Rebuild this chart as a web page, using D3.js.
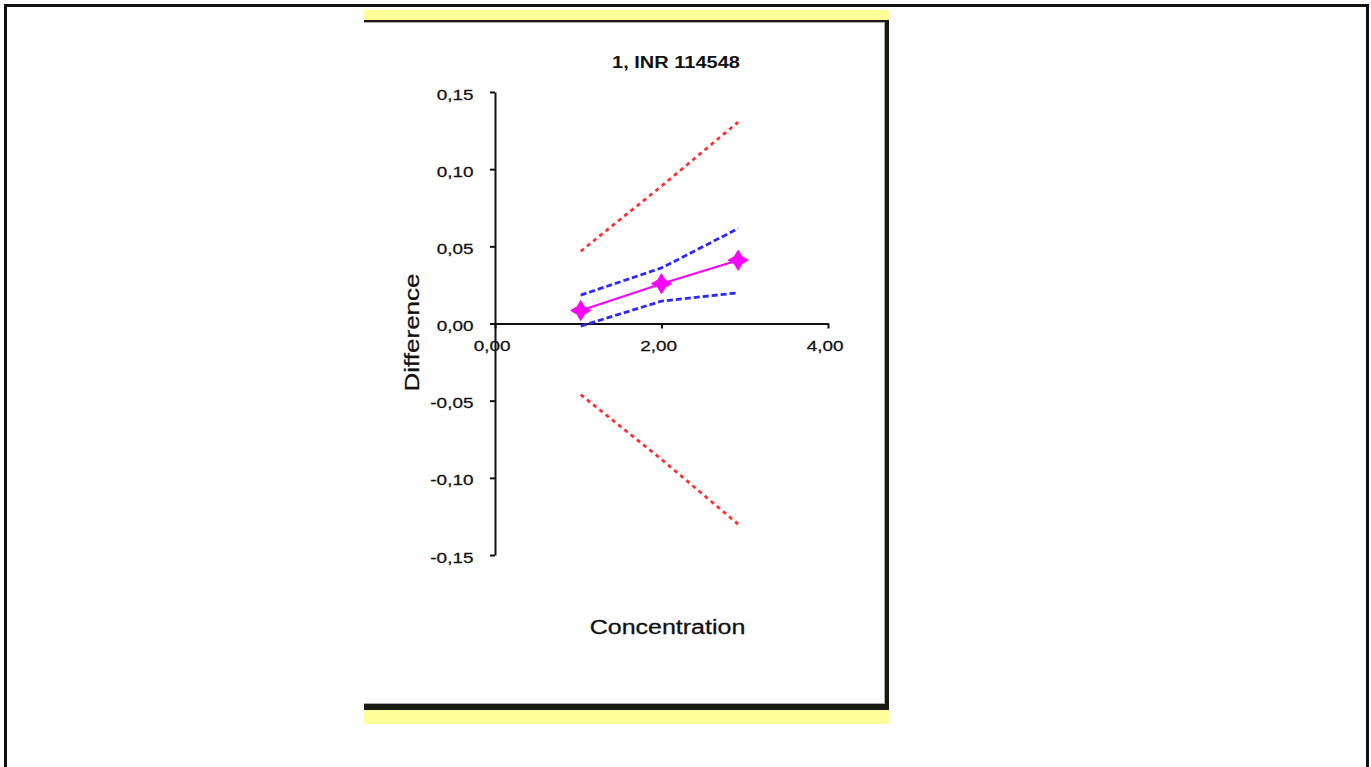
<!DOCTYPE html>
<html>
<head>
<meta charset="utf-8">
<script src="https://cdn.jsdelivr.net/npm/d3@7"></script>
<style>
  body { margin: 0; background: #fff; }
  text { font-family: "Liberation Sans", Arial, sans-serif; fill: #111; }
</style>
</head>
<body>
<main></main>
<script>
const width = 1371;
const height = 767;

// data
const concentration = [1.03, 2.00, 2.92];
const difference = [0.0084, 0.0258, 0.0410];
const upperCI = [0.0184, 0.0360, 0.0615];
const lowerCI = [-0.0017, 0.0145, 0.0199];
const upperLimit = [0.0468, 0.0890, 0.1305];
const lowerLimit = [-0.0461, -0.0880, -0.1300];
const xTicks = [0, 2, 4];
const yTicks = [-0.15, -0.10, -0.05, 0, 0.05, 0.10, 0.15];

const title = '1, INR 114548';
const xTitle = 'Concentration';
const yTitle = 'Difference';

const comma = (f) => (d) => f(d).replace('.', ',').replace('\u2212', '-');

const createSvg = () => {
    return d3.select('main')
             .append('svg')
             .attr('width', width)
             .attr('height', height)
}

const createFrame = (svg) => {
    // outer page frame
    svg.append('path')
       .attr('d', 'M5.5,790 V5.5 H1367.5 V790')
       .attr('fill', 'none')
       .attr('stroke', '#111')
       .attr('stroke-width', 3)

    // yellow backing + chart area
    svg.append('rect')
       .attr('x', 364).attr('y', 10)
       .attr('width', 525).attr('height', 714)
       .attr('fill', '#ffff99')
    svg.append('rect')
       .attr('x', 364).attr('y', 20)
       .attr('width', 523).attr('height', 688)
       .attr('fill', '#fff')

    svg.append('line').attr('x1', 364).attr('x2', 887).attr('y1', 21).attr('y2', 21)
       .attr('stroke', '#1a1a10').attr('stroke-width', 2)
    svg.append('line').attr('x1', 364).attr('x2', 885).attr('y1', 22.5).attr('y2', 22.5)
       .attr('stroke', '#aaa').attr('stroke-width', 1)
    svg.append('line').attr('x1', 887).attr('x2', 887).attr('y1', 20).attr('y2', 710)
       .attr('stroke', '#1a1a10').attr('stroke-width', 4)
    svg.append('line').attr('x1', 884.5).attr('x2', 884.5).attr('y1', 22).attr('y2', 704)
       .attr('stroke', '#aaa').attr('stroke-width', 1)
    svg.append('line').attr('x1', 364).attr('x2', 889).attr('y1', 707).attr('y2', 707)
       .attr('stroke', '#1a1a10').attr('stroke-width', 6)
    svg.append('line').attr('x1', 364).attr('x2', 885).attr('y1', 703.5).attr('y2', 703.5)
       .attr('stroke', '#aaa').attr('stroke-width', 1)
}

const createScales = () => {
    const xScale = d3.scaleLinear().domain([0, 4]).range([495, 828]);
    const yScale = d3.scaleLinear().domain([-0.15, 0.15]).range([555, 92]);
    return {xScale, yScale};
}

const createAxis = (svg, scales) => {
    const xAxis = svg.append('g')
       .attr('transform', 'translate(0,' + scales.yScale(0) + ')')
       .call(d3.axisBottom(scales.xScale).tickValues(xTicks)
               .tickSize(5).tickPadding(13).tickSizeOuter(0)
               .tickFormat(comma(d3.format('.2f'))))

    const yAxis = svg.append('g')
       .attr('transform', 'translate(' + scales.xScale(0) + ',0)')
       .call(d3.axisLeft(scales.yScale).tickValues(yTicks)
               .tickSize(5).tickPadding(11).tickSizeOuter(0)
               .tickFormat(comma(d3.format('.2f'))))

    ;[xAxis, yAxis].forEach((g) => {
        g.select('.domain').attr('stroke', '#111').attr('stroke-width', 2)
        g.selectAll('.tick line').attr('stroke', '#111').attr('stroke-width', 2)
        g.selectAll('.tick text')
         .attr('font-size', 14)
         .attr('font-family', '"Liberation Sans", Arial, sans-serif')
         .attr('fill', '#111')
         .attr('stroke', '#111')
         .attr('stroke-width', 0.25)
         .attr('transform', 'scale(1.35,1)')
    })
    xAxis.selectAll('.tick text').attr('x', -2.5)
    yAxis.selectAll('.tick text').attr('dy', '0.5em')
}

const createTitles = (svg) => {
    svg.append('text')
       .attr('transform', 'translate(676,68) scale(1.25,1)')
       .attr('text-anchor', 'middle')
       .attr('font-size', 16)
       .attr('font-weight', 'bold')
       .text(title)

    svg.append('text')
       .attr('transform', 'translate(667.5,634) scale(1.25,1)')
       .attr('text-anchor', 'middle')
       .attr('font-size', 20)
       .attr('stroke', '#111')
       .attr('stroke-width', 0.3)
       .text(xTitle)

    svg.append('text')
       .attr('transform', 'translate(419,332.5) rotate(-90) scale(1.3,1)')
       .attr('text-anchor', 'middle')
       .attr('font-size', 20)
       .attr('stroke', '#111')
       .attr('stroke-width', 0.3)
       .text(yTitle)
}

const createLines = (svg, scales) => {
    const line = d3.line()
                   .x((d) => scales.xScale(d[0]))
                   .y((d) => scales.yScale(d[1]));
    const pairs = (values) => concentration.map((c, i) => [c, values[i]]);

    const series = [
        {values: upperLimit, color: '#ff3030', dash: '4,4', width: 2.8},
        {values: lowerLimit, color: '#ff3030', dash: '4,4', width: 2.8},
        {values: upperCI, color: '#2a2aff', dash: '6,3', width: 2.8},
        {values: lowerCI, color: '#2a2aff', dash: '6,3', width: 2.8},
        {values: difference, color: '#ff00ff', dash: null, width: 2.2}
    ];

    svg.selectAll('path.series')
       .data(series)
       .enter()
       .append('path')
       .attr('class', 'series')
       .attr('d', (d) => line(pairs(d.values)))
       .attr('fill', 'none')
       .attr('stroke', (d) => d.color)
       .attr('stroke-width', (d) => d.width)
       .attr('stroke-dasharray', (d) => d.dash)

    // concave diamond marker
    const diamond = {
        draw: (ctx, size) => {
            const r = Math.sqrt(size) / 2;
            const k = r * 0.37;
            ctx.moveTo(0, -r);
            ctx.lineTo(k, -k);
            ctx.lineTo(r, 0);
            ctx.lineTo(k, k);
            ctx.lineTo(0, r);
            ctx.lineTo(-k, k);
            ctx.lineTo(-r, 0);
            ctx.lineTo(-k, -k);
            ctx.closePath();
        }
    };

    svg.selectAll('path.marker')
       .data(pairs(difference))
       .enter()
       .append('path')
       .attr('class', 'marker')
       .attr('transform', (d) => 'translate(' + scales.xScale(d[0]) + ',' + scales.yScale(d[1]) + ')')
       .attr('d', d3.symbol().type(diamond).size(20 * 20))
       .attr('fill', '#ff00ff')
       .attr('stroke', '#ff00ff')
       .attr('stroke-width', 1)
}

const driver = () => {
    const svg = createSvg();
    createFrame(svg);
    const scales = createScales();
    createAxis(svg, scales);
    createLines(svg, scales);
    createTitles(svg);
}
driver();
</script>
</body>
</html>
